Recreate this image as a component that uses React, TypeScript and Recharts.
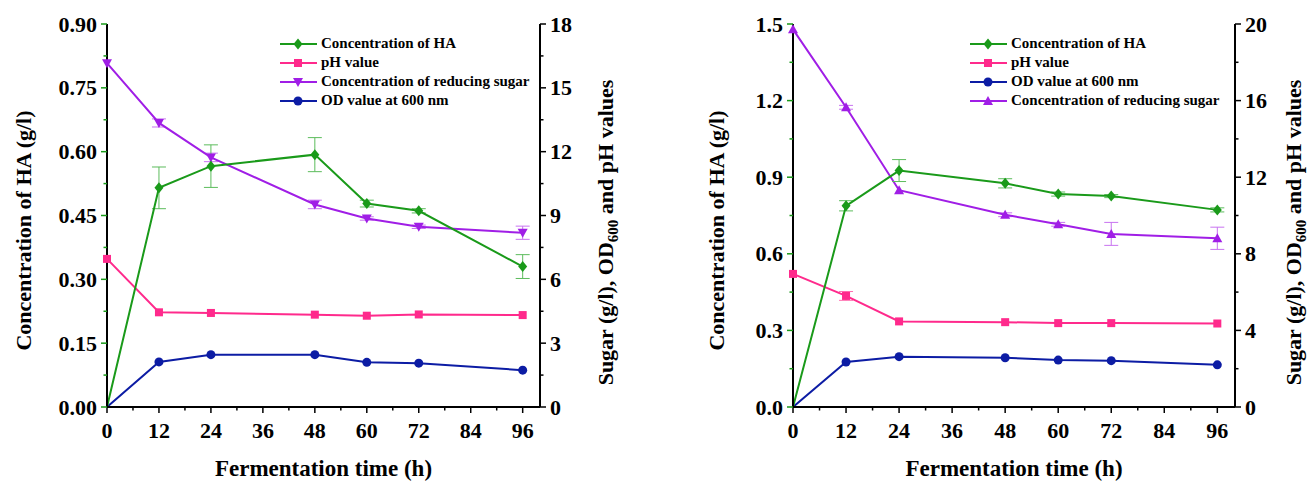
import React from 'react';
import { ComposedChart, Line, XAxis, YAxis, ErrorBar, Legend } from 'recharts';

// sampling times (h)
const time = [0, 12, 24, 48, 60, 72, 96];

// panel (a)
const haA = [0, 0.515, 0.566, 0.593, 0.478, 0.461, 0.33];
const haErrA = [0, 0.049, 0.05, 0.04, 0.008, 0.005, 0.028];
const phA = [6.96, 4.45, 4.42, 4.34, 4.29, 4.35, 4.32];
const phErrA = [0, 0, 0, 0, 0, 0, 0];
const sugarA = [16.16, 13.35, 11.73, 9.52, 8.86, 8.47, 8.19];
const sugarErrA = [0, 0.19, 0.2, 0.2, 0.08, 0.08, 0.31];
const odA = [0, 2.12, 2.46, 2.46, 2.1, 2.06, 1.73];

// panel (b)
const haB = [0, 0.788, 0.926, 0.876, 0.834, 0.826, 0.772];
const haErrB = [0, 0.02, 0.043, 0.018, 0.008, 0.006, 0.008];
const phB = [6.95, 5.8, 4.47, 4.43, 4.38, 4.38, 4.36];
const phErrB = [0, 0.23, 0, 0, 0, 0, 0];
const odB = [0, 2.35, 2.63, 2.57, 2.45, 2.42, 2.2];
const sugarB = [19.72, 15.65, 11.32, 10.04, 9.54, 9.04, 8.81];
const sugarErrB = [0, 0.1, 0, 0.1, 0.1, 0.6, 0.58];

// ticks (majors get a label, the rest are minor ticks)
const xTicks = [0, 6, 12, 18, 24, 30, 36, 42, 48, 54, 60, 66, 72, 78, 84, 90, 96];
const leftTicksA = [0, 0.075, 0.15, 0.225, 0.3, 0.375, 0.45, 0.525, 0.6, 0.675, 0.75, 0.825, 0.9];
const rightTicksA = [0, 1.5, 3, 4.5, 6, 7.5, 9, 10.5, 12, 13.5, 15, 16.5, 18];
const leftTicksB = [0, 0.15, 0.3, 0.45, 0.6, 0.75, 0.9, 1.05, 1.2, 1.35, 1.5];
const rightTicksB = [0, 2, 4, 6, 8, 10, 12, 14, 16, 18, 20];

const GREEN = '#1a9a1a';
const PINK = '#ff2a8c';
const PURPLE = '#a01ee6';
const NAVY = '#0c1ca4';

const FONT = '"Times New Roman", "Liberation Serif", serif';

type Shape = 'diamond' | 'square' | 'circle' | 'down' | 'up';

const Marker = ({ shape, cx, cy, color }: { shape: Shape; cx: number; cy: number; color: string }) => {
  switch (shape) {
    case 'diamond':
      return <polygon points={`${cx},${cy - 5.5} ${cx + 4.5},${cy} ${cx},${cy + 5.5} ${cx - 4.5},${cy}`} fill={color} />;
    case 'square':
      return <rect x={cx - 4} y={cy - 4} width={8} height={8} fill={color} />;
    case 'circle':
      return <circle cx={cx} cy={cy} r={4.5} fill={color} />;
    case 'down':
      return <polygon points={`${cx - 5},${cy - 4} ${cx + 5},${cy - 4} ${cx},${cy + 5}`} fill={color} />;
    default:
      return <polygon points={`${cx},${cy - 5} ${cx + 5},${cy + 4} ${cx - 5},${cy + 4}`} fill={color} />;
  }
};

const dotOf = (shape: Shape, color: string) => (p: any) => {
  // the curves start at the origin without a symbol
  if (!p.value && p.index === 0) return <g key={p.index} />;
  return <Marker key={p.index} shape={shape} cx={p.cx} cy={p.cy} color={color} />;
};

const XTick = (p: any) => {
  const v = p.payload.value;
  const major = v % 12 === 0;
  return (
    <g>
      <line x1={p.x} x2={p.x} y1={p.y} y2={p.y + (major ? 6 : 3.5)} stroke="#000" strokeWidth={1.5} />
      {major && (
        <text x={p.x} y={p.y + 31} textAnchor="middle" fontFamily={FONT} fontWeight="bold" fontSize={22} fill="#000">
          {v}
        </text>
      )}
    </g>
  );
};

const yTick = (side: 'left' | 'right', step: number, decimals: number, color: string) => (p: any) => {
  const v = p.payload.value;
  const major = Math.abs(v / step - Math.round(v / step)) < 1e-6;
  const dir = side === 'left' ? -1 : 1;
  return (
    <g>
      <line x1={p.x} x2={p.x + dir * (major ? 6 : 3.5)} y1={p.y} y2={p.y} stroke={color} strokeWidth={1.5} />
      {major && (
        <text
          x={p.x + dir * 10}
          y={p.y + 7.5}
          textAnchor={side === 'left' ? 'end' : 'start'}
          fontFamily={FONT}
          fontWeight="bold"
          fontSize={22}
          fill="#000"
        >
          {v.toFixed(decimals)}
        </text>
      )}
    </g>
  );
};

interface LegendItem {
  name: string;
  color: string;
  shape: Shape;
}

const LegendBox = ({ items }: { items: LegendItem[] }) => (
  <div style={{ fontFamily: FONT, fontWeight: 'bold', fontSize: 15, color: '#000' }}>
    {items.map((it) => (
      <div key={it.name} style={{ display: 'flex', alignItems: 'center', height: 19, whiteSpace: 'nowrap' }}>
        <svg width={38} height={12}>
          <line x1={0} x2={37} y1={6} y2={6} stroke={it.color} strokeWidth={2} />
          <Marker shape={it.shape} cx={18} cy={6} color={it.color} />
        </svg>
        <span style={{ marginLeft: 3 }}>{it.name}</span>
      </div>
    ))}
  </div>
);

interface PanelProps {
  tag: string;
  rows: any[];
  width: number;
  marginRight: number;
  leftWidth: number;
  leftDomain: [number, number];
  leftTicks: number[];
  leftStep: number;
  leftDecimals: number;
  rightDomain: [number, number];
  rightTicks: number[];
  rightStep: number;
  sugarShape: Shape;
  legend: LegendItem[];
  legendLeft: number;
  leftTitleX: number;
  rightTitleX: number;
  tagX: number;
  tagY: number;
}

const Panel = (P: PanelProps) => (
  <ComposedChart
    width={P.width}
    height={482}
    data={P.rows}
    margin={{ top: 24, right: P.marginRight, bottom: 35, left: 0 }}
  >
    <XAxis
      dataKey="t"
      type="number"
      domain={[0, 100]}
      ticks={xTicks}
      interval={0}
      tickSize={0}
      tickMargin={0}
      height={40}
      tick={XTick}
      axisLine={{ stroke: '#000', strokeWidth: 2 }}
      label={{
        content: (lp: any) => {
          const vb = lp.viewBox;
          return (
            <text x={vb.x + vb.width / 2} y={vb.y + 69} textAnchor="middle" fontFamily={FONT} fontWeight="bold" fontSize={23} fill="#000">
              Fermentation time (h)
            </text>
          );
        },
      }}
    />
    <XAxis
      xAxisId="top"
      orientation="top"
      type="number"
      domain={[0, 100]}
      height={0}
      tick={false}
      tickLine={false}
      axisLine={{ stroke: '#000', strokeWidth: 2 }}
      label={{
        content: (lp: any) => {
          const vb = lp.viewBox;
          return (
            <text x={vb.x + P.tagX} y={vb.y + P.tagY} fontFamily={FONT} fontWeight="bold" fontSize={21} fill="#000">
              {P.tag}
            </text>
          );
        },
      }}
    />
    <YAxis
      yAxisId="left"
      width={P.leftWidth}
      domain={P.leftDomain}
      allowDataOverflow
      ticks={P.leftTicks}
      interval={0}
      tickSize={0}
      tickMargin={0}
      tick={yTick('left', P.leftStep, P.leftDecimals, GREEN)}
      axisLine={{ stroke: '#000', strokeWidth: 2 }}
      label={{
        content: (lp: any) => {
          const vb = lp.viewBox;
          const cx = vb.x + P.leftTitleX;
          const cy = vb.y + vb.height / 2 + 15;
          return (
            <text x={cx} y={cy} transform={`rotate(-90 ${cx} ${cy})`} textAnchor="middle" fontFamily={FONT} fontWeight="bold" fontSize={22} fill="#000">
              Concentration of HA (g/l)
            </text>
          );
        },
      }}
    />
    <YAxis
      yAxisId="right"
      orientation="right"
      width={60}
      domain={P.rightDomain}
      allowDataOverflow
      ticks={P.rightTicks}
      interval={0}
      tickSize={0}
      tickMargin={0}
      tick={yTick('right', P.rightStep, 0, '#000')}
      axisLine={{ stroke: '#000', strokeWidth: 2 }}
      label={{
        content: (lp: any) => {
          const vb = lp.viewBox;
          const cx = vb.x + P.rightTitleX;
          const cy = vb.y + vb.height / 2 + 17;
          return (
            <text x={cx} y={cy} transform={`rotate(-90 ${cx} ${cy})`} textAnchor="middle" fontFamily={FONT} fontWeight="bold" fontSize={22} fill="#000">
              Sugar (g/l), OD
              <tspan dy={5} fontSize={15}>600</tspan>
              <tspan dy={-5}> and pH values</tspan>
            </text>
          );
        },
      }}
    />
    <Legend
      layout="vertical"
      align="center"
      verticalAlign="middle"
      wrapperStyle={{ left: P.legendLeft, top: 34, width: 'auto' }}
      content={() => <LegendBox items={P.legend} />}
    />
    <Line yAxisId="right" dataKey="od" stroke={NAVY} strokeWidth={2} dot={dotOf('circle', NAVY)} isAnimationActive={false} />
    <Line yAxisId="right" dataKey="ph" stroke={PINK} strokeWidth={2} dot={dotOf('square', PINK)} isAnimationActive={false}>
      <ErrorBar dataKey="phErr" width={7} stroke="#ff6fb0" strokeWidth={1} direction="y" />
    </Line>
    <Line yAxisId="right" dataKey="sugar" stroke={PURPLE} strokeWidth={2} dot={dotOf(P.sugarShape, PURPLE)} isAnimationActive={false}>
      <ErrorBar dataKey="sugarErr" width={7} stroke="#c873f0" strokeWidth={1} direction="y" />
    </Line>
    <Line yAxisId="left" dataKey="ha" stroke={GREEN} strokeWidth={2} dot={dotOf('diamond', GREEN)} isAnimationActive={false}>
      <ErrorBar dataKey="haErr" width={7} stroke="#5cbc5c" strokeWidth={1} direction="y" />
    </Line>
  </ComposedChart>
);

const rowsA = time.map((t, i) => ({
  t,
  ha: haA[i],
  haErr: haErrA[i],
  ph: phA[i],
  phErr: phErrA[i],
  sugar: sugarA[i],
  sugarErr: sugarErrA[i],
  od: odA[i],
}));

const rowsB = time.map((t, i) => ({
  t,
  ha: haB[i],
  haErr: haErrB[i],
  ph: phB[i],
  phErr: phErrB[i],
  sugar: sugarB[i],
  sugarErr: sugarErrB[i],
  od: odB[i],
}));

const legendA: LegendItem[] = [
  { name: 'Concentration of HA', color: GREEN, shape: 'diamond' },
  { name: 'pH value', color: PINK, shape: 'square' },
  { name: 'Concentration of reducing sugar', color: PURPLE, shape: 'down' },
  { name: 'OD value at 600 nm', color: NAVY, shape: 'circle' },
];

const legendB: LegendItem[] = [
  { name: 'Concentration of HA', color: GREEN, shape: 'diamond' },
  { name: 'pH value', color: PINK, shape: 'square' },
  { name: 'OD value at 600 nm', color: NAVY, shape: 'circle' },
  { name: 'Concentration of reducing sugar', color: PURPLE, shape: 'up' },
];

export default function App() {
  return (
    <div style={{ position: 'absolute', left: 0, top: 0, width: 1309, height: 482, background: '#fff', display: 'flex' }}>
      <Panel
        tag="(a)"
        rows={rowsA}
        width={654}
        marginRight={54}
        leftWidth={107}
        leftDomain={[0, 0.9]}
        leftTicks={leftTicksA}
        leftStep={0.15}
        leftDecimals={2}
        rightDomain={[0, 18]}
        rightTicks={rightTicksA}
        rightStep={3}
        sugarShape="down"
        legend={legendA}
        legendLeft={280}
        leftTitleX={31}
        rightTitleX={73}
        tagX={22}
        tagY={31}
      />
      <Panel
        tag="(b)"
        rows={rowsB}
        width={655}
        marginRight={14}
        leftWidth={139}
        leftDomain={[0, 1.5]}
        leftTicks={leftTicksB}
        leftStep={0.3}
        leftDecimals={1}
        rightDomain={[0, 20]}
        rightTicks={rightTicksB}
        rightStep={4}
        sugarShape="up"
        legend={legendB}
        legendLeft={316}
        leftTitleX={70}
        rightTitleX={66}
        tagX={40}
        tagY={29}
      />
    </div>
  );
}
